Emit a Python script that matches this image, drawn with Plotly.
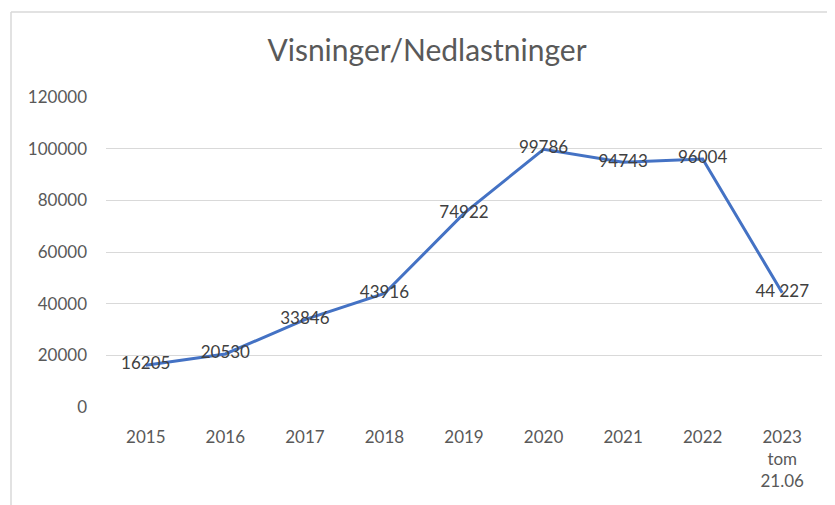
import plotly.graph_objects as go

categories = ["2015", "2016", "2017", "2018", "2019", "2020", "2021", "2022", "2023<br>tom<br>21.06"]
values = [16205, 20530, 33846, 43916, 74922, 99786, 94743, 96004, 44227]
value_labels = ["16205", "20530", "33846", "43916", "74922", "99786", "94743", "96004", "44 227"]
y_ticks = [0, 20000, 40000, 60000, 80000, 100000, 120000]

# page body has an 8px margin; figure is placed at (8, 8)
OFF = 8
W, H = 835 - OFF, 505 - OFF
L, T = 106 - OFF, 97 - OFF
R = W - (822 - OFF)
B = H - (407 - OFF)
pw, ph = W - L - R, H - T - B

FONT = "Lato, sans-serif"

fig = go.Figure()
fig.add_trace(go.Scatter(
    x=list(range(len(categories))), y=values,
    mode="lines+text",
    line=dict(color="#4472C4", width=3),
    text=value_labels, textposition="middle center",
    textfont=dict(family=FONT, size=17, color="#404040"),
    cliponaxis=False, hoverinfo="skip",
))

def px_x(p):
    return (p - OFF - L) / pw

def px_y(p):
    return (H - B - (p - OFF)) / ph

fig.update_layout(
    width=W, height=H,
    margin=dict(l=L, r=R, t=T, b=B),
    paper_bgcolor="white", plot_bgcolor="white",
    showlegend=False,
    title=dict(text="Visninger/Nedlastninger", x=(427 - OFF) / W, xanchor="center",
               y=1 - (50 - OFF) / H, yanchor="middle",
               font=dict(family=FONT, size=30, color="#595959")),
    xaxis=dict(
        range=[-0.5, len(categories) - 0.5],
        tickmode="array", tickvals=list(range(len(categories))), ticktext=categories,
        showgrid=False, zeroline=False, showline=False, ticks="",
        tickfont=dict(family=FONT, size=17, color="#595959"),
        ticklabelstandoff=18,
    ),
    yaxis=dict(
        range=[0, 120000], tickmode="array", tickvals=y_ticks,
        ticktext=[str(v) for v in y_ticks],
        showgrid=True, gridcolor="#D9D9D9", gridwidth=1,
        zeroline=False, showline=False, ticks="",
        tickfont=dict(family=FONT, size=17, color="#595959"),
        ticklabelstandoff=18,
    ),
    shapes=[
        dict(type="line", xref="paper", yref="paper", x0=px_x(11), x1=px_x(835), y0=px_y(12), y1=px_y(12),
             line=dict(color="#D9D9D9", width=1.5)),
        dict(type="line", xref="paper", yref="paper", x0=px_x(11), x1=px_x(11), y0=px_y(12), y1=px_y(505),
             line=dict(color="#D9D9D9", width=1.5)),
    ],
)

fig.write_html("out.html")
